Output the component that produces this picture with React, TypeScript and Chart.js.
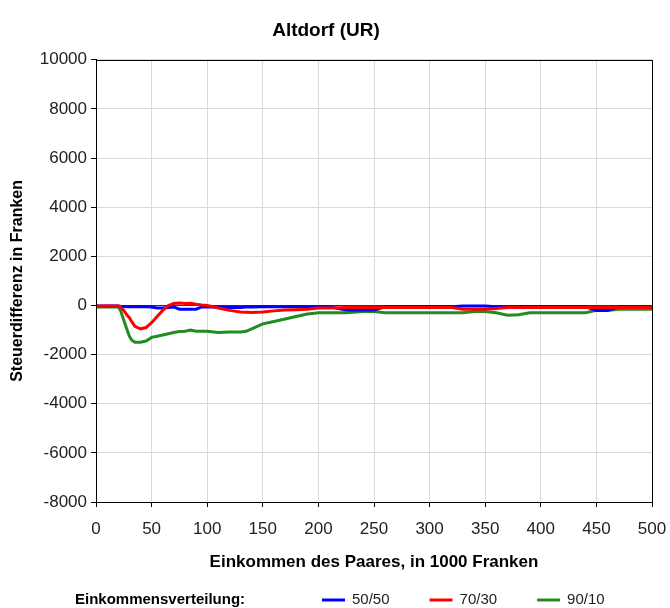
import React, { useEffect, useRef } from "react";
import { Chart, registerables } from "chart.js";

Chart.register(...registerables);

const TITLE = "Altdorf (UR)";
const X_TITLE = "Einkommen des Paares, in 1000 Franken";
const Y_TITLE = "Steuerdifferenz in Franken";
const LEGEND_TITLE = "Einkommensverteilung:";
const SERIES_NAMES = ["50/50", "70/30", "90/10"];
const SERIES_COLORS = ["#0000ff", "#ff0000", "#228b22"];
const SERIES_DRAW_ORDER = [1, 0, 2];

const INCOME = [0, 20, 22, 25, 28, 30, 32, 35, 40, 45, 50, 55, 60, 65, 70, 75, 80, 85, 90, 95, 100, 110, 120, 130, 135, 140, 150, 160, 170, 180, 190, 200, 210, 225, 240, 250, 260, 280, 300, 320, 330, 340, 350, 360, 370, 380, 390, 400, 420, 440, 450, 460, 470, 480, 500];

const BLUE_5050 = [-20, -20, -30, -40, -50, -50, -50, -50, -50, -50, -60, -100, -100, -80, -60, -150, -150, -150, -150, -60, -60, -60, -80, -80, -60, -60, -50, -50, -50, -50, -50, -50, -50, -180, -180, -180, -50, -50, -50, -50, -20, -20, -20, -50, -50, -50, -50, -50, -50, -50, -200, -200, -50, -50, -50];

const RED_7030 = [-20, -20, -50, -200, -400, -500, -650, -850, -950, -900, -700, -450, -200, 0, 80, 100, 80, 90, 50, 20, 0, -100, -200, -270, -280, -290, -270, -220, -180, -170, -150, -100, -100, -80, -80, -80, -80, -80, -80, -80, -150, -150, -150, -120, -80, -80, -80, -80, -80, -80, -80, -80, -80, -80, -80];

const GREEN_9010 = [-60, -60, -200, -600, -1000, -1250, -1400, -1500, -1500, -1450, -1300, -1250, -1200, -1150, -1100, -1060, -1050, -1000, -1050, -1050, -1050, -1100, -1080, -1080, -1050, -950, -750, -650, -550, -450, -350, -300, -300, -300, -250, -250, -300, -300, -300, -300, -300, -250, -250, -300, -400, -380, -300, -300, -300, -300, -200, -200, -150, -150, -150];

const SERIES_VALUES = [BLUE_5050, RED_7030, GREEN_9010];

const X_MIN = 0;
const X_MAX = 500;
const X_STEP = 50;
const Y_MIN = -8000;
const Y_MAX = 10000;
const Y_STEP = 2000;

const FONT = '"Liberation Sans", Arial, sans-serif';

export default function App() {
  const ref = useRef<HTMLCanvasElement | null>(null);

  useEffect(() => {
    if (!ref.current) return;

    const frame = {
      id: "frame",
      afterDatasetsDraw(chart: any) {
        const { ctx, chartArea } = chart;
        ctx.save();
        ctx.strokeStyle = "#000";
        ctx.lineWidth = 1;
        ctx.strokeRect(
          Math.round(chartArea.left) + 0.5,
          Math.round(chartArea.top) + 0.5,
          Math.round(chartArea.right - chartArea.left),
          Math.round(chartArea.bottom - chartArea.top)
        );
        ctx.restore();
      },
      afterDraw(chart: any) {
        const { ctx } = chart;
        ctx.save();
        const y = 600;
        ctx.textBaseline = "middle";
        ctx.textAlign = "left";
        ctx.fillStyle = "#000";
        ctx.font = `bold 15px ${FONT}`;
        ctx.fillText(LEGEND_TITLE, 75, y);
        ctx.font = `15px ${FONT}`;
        let x = 322;
        chart.data.datasets.forEach((ds: any) => {
          ctx.strokeStyle = ds.borderColor;
          ctx.lineWidth = 3;
          ctx.beginPath();
          ctx.moveTo(x, y);
          ctx.lineTo(x + 23, y);
          ctx.stroke();
          ctx.fillStyle = "#222";
          ctx.fillText(ds.label, x + 30, y);
          x += 30 + ctx.measureText(ds.label).width + 40;
        });
        ctx.restore();
      },
    };

    const chart = new Chart(ref.current, {
      type: "line",
      data: {
        datasets: SERIES_NAMES.map((name, i) => ({
          label: name,
          data: INCOME.map((xv, j) => ({ x: xv, y: SERIES_VALUES[i][j] })),
          borderColor: SERIES_COLORS[i],
          backgroundColor: SERIES_COLORS[i],
          borderWidth: 3,
          pointRadius: 0,
          tension: 0,
          fill: false,
          order: SERIES_DRAW_ORDER[i],
        })),
      },
      options: {
        animation: false,
        responsive: false,
        maintainAspectRatio: false,
        layout: { padding: { left: 0, right: 18, top: 0, bottom: 28 } },
        plugins: {
          legend: { display: false },
          tooltip: { enabled: false },
          title: {
            display: true,
            text: TITLE,
            color: "#000",
            font: { family: FONT, size: 19, weight: "bold" },
            padding: { top: 19, bottom: 18 },
          },
        },
        scales: {
          x: {
            type: "linear",
            min: X_MIN,
            max: X_MAX,
            afterFit(scale: any) {
              scale.height = 78;
              scale.paddingRight = 0;
              scale.paddingLeft = 0;
            },
            ticks: {
              stepSize: X_STEP,
              color: "#222",
              padding: 12,
              maxRotation: 0,
              font: { family: FONT, size: 17 },
              callback: (v: any) => String(v),
            },
            grid: {
              color: "#d9d9d9",
              tickColor: "#000",
              tickLength: 5,
              drawTicks: true,
            },
            border: { display: true, color: "#000" },
            title: {
              display: true,
              text: X_TITLE,
              color: "#000",
              font: { family: FONT, size: 17, weight: "bold" },
              padding: { top: 0, bottom: 7 },
            },
          },
          y: {
            type: "linear",
            min: Y_MIN,
            max: Y_MAX,
            afterFit(scale: any) {
              scale.width = 96;
              scale.paddingTop = 0;
              scale.paddingBottom = 0;
            },
            ticks: {
              stepSize: Y_STEP,
              color: "#222",
              padding: 4,
              font: { family: FONT, size: 17 },
              callback: (v: any) => String(v),
            },
            grid: {
              color: (c: any) => (c.tick && c.tick.value === 0 ? "#333" : "#d9d9d9"),
              tickColor: "#000",
              tickLength: 5,
              drawTicks: true,
            },
            border: { display: true, color: "#000" },
            title: {
              display: true,
              text: Y_TITLE,
              color: "#000",
              font: { family: FONT, size: 16, weight: "bold" },
              padding: { top: 8, bottom: 0 },
            },
          },
        },
      },
      plugins: [frame],
    });

    return () => chart.destroy();
  }, []);

  return (
    <div style={{ position: "fixed", left: 0, top: 0, width: 670, height: 608, background: "#fff" }}>
      <canvas ref={ref} width={670} height={608} style={{ display: "block", width: 670, height: 608 }} />
    </div>
  );
}
